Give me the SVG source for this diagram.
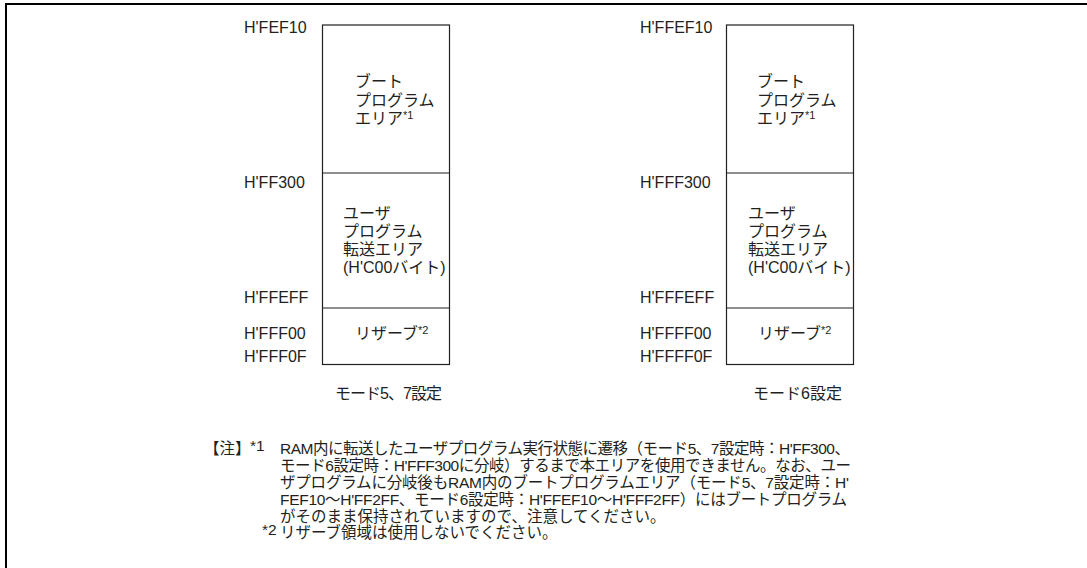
<svg xmlns="http://www.w3.org/2000/svg" width="1087" height="568" viewBox="0 0 1087 568">
<style>
text{font-family:"Liberation Sans","Noto Sans CJK JP",sans-serif;fill:#231f20}
.lb{font-size:16px}
.bx{font-size:16px}
.sup{font-size:11px}
.nt{font-size:15.5px}
.box{fill:none;stroke:#231f20;stroke-width:1.2}
</style>
<rect width="1087" height="568" fill="#fff"/>
<g id="frame"><path d="M6 568V4H1087" fill="none" stroke="#000" stroke-width="2"/></g>
<g id="map-left">
<rect class="box" x="322.5" y="25" width="127" height="339.5"/>
<line class="box" x1="322.5" y1="173" x2="449.5" y2="173"/>
<line class="box" x1="322.5" y1="308" x2="449.5" y2="308"/>
<text class="lb" x="244" y="33">H'FEF10</text>
<text class="lb" x="244" y="188">H'FF300</text>
<text class="lb" x="244" y="303">H'FFEFF</text>
<text class="lb" x="244" y="339">H'FFF00</text>
<text class="lb" x="244" y="362">H'FFF0F</text>
<text class="bx" x="355" y="87">ブート</text>
<text class="bx" x="355" y="106">プログラム</text>
<text class="bx" x="355" y="124">エリア<tspan class="sup" dy="-5">*1</tspan></text>
<text class="bx" x="343" y="219">ユーザ</text>
<text class="bx" x="343" y="237">プログラム</text>
<text class="bx" x="343" y="255">転送エリア</text>
<text class="bx" x="343" y="273">(H'C00バイト)</text>
<text class="bx" x="355" y="339">リザーブ<tspan class="sup" dy="-5">*2</tspan></text>
<text class="lb" x="335" y="399" textLength="107" lengthAdjust="spacing">モード5、7設定</text>
</g>
<g id="map-right">
<rect class="box" x="726.5" y="25" width="127" height="339.5"/>
<line class="box" x1="726.5" y1="173" x2="853.5" y2="173"/>
<line class="box" x1="726.5" y1="308" x2="853.5" y2="308"/>
<text class="lb" x="640" y="33">H'FFEF10</text>
<text class="lb" x="640" y="188">H'FFF300</text>
<text class="lb" x="640" y="303">H'FFFEFF</text>
<text class="lb" x="640" y="339">H'FFFF00</text>
<text class="lb" x="640" y="362">H'FFFF0F</text>
<text class="bx" x="757" y="87">ブート</text>
<text class="bx" x="757" y="106">プログラム</text>
<text class="bx" x="757" y="124">エリア<tspan class="sup" dy="-5">*1</tspan></text>
<text class="bx" x="748" y="219">ユーザ</text>
<text class="bx" x="748" y="237">プログラム</text>
<text class="bx" x="748" y="255">転送エリア</text>
<text class="bx" x="748" y="273">(H'C00バイト)</text>
<text class="bx" x="758" y="339">リザーブ<tspan class="sup" dy="-5">*2</tspan></text>
<text class="lb" x="753" y="399">モード6設定</text>
</g>
<g id="notes">
<text class="nt" x="204" y="454">【注】</text>
<text class="nt" x="250" y="451">*1</text>
<text class="nt" x="280" y="454" textLength="570" lengthAdjust="spacing">RAM内に転送したユーザプログラム実行状態に遷移（モード5、7設定時：H'FF300、</text>
<text class="nt" x="280" y="471" textLength="571" lengthAdjust="spacing">モード6設定時：H'FFF300に分岐）するまで本エリアを使用できません。なお、ユー</text>
<text class="nt" x="280" y="488" textLength="569" lengthAdjust="spacing">ザプログラムに分岐後もRAM内のブートプログラムエリア（モード5、7設定時：H'</text>
<text class="nt" x="280" y="505" textLength="567" lengthAdjust="spacing">FEF10～H'FF2FF、モード6設定時：H'FFEF10～H'FFF2FF）にはブートプログラム</text>
<text class="nt" x="280" y="522">がそのまま保持されていますので、注意してください。</text>
<text class="nt" x="262" y="535">*2</text>
<text class="nt" x="280" y="538">リザーブ領域は使用しないでください。</text>
</g>
</svg>
